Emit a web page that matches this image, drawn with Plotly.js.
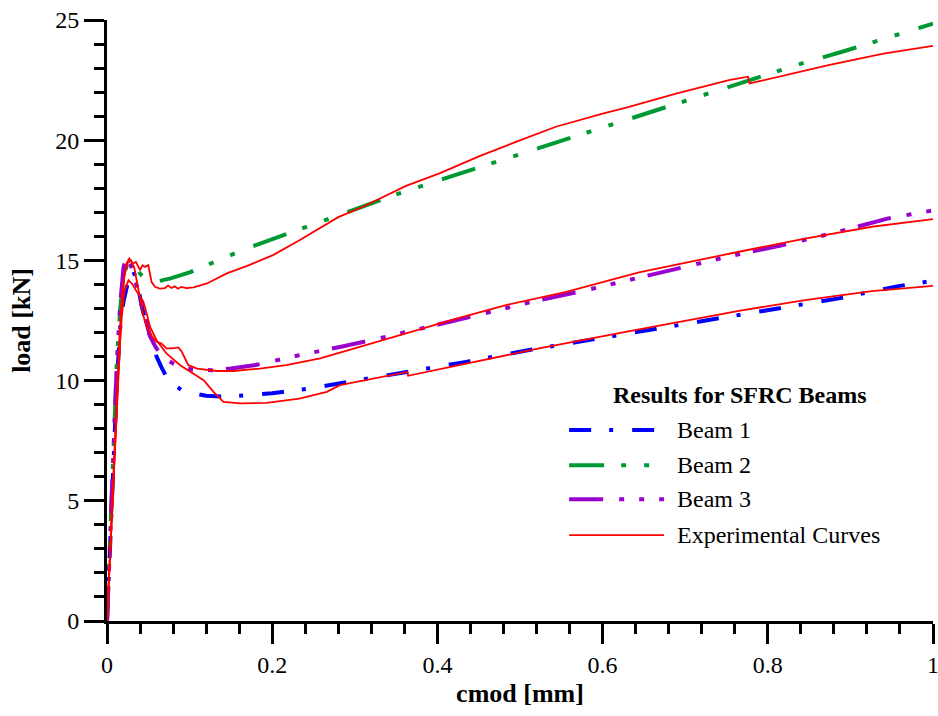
<!DOCTYPE html>
<html>
<head>
<meta charset="utf-8">
<script src="https://cdn.plot.ly/plotly-3.0.1.min.js"></script>
<style>
  body { margin: 0; background: #fff; }
  #plot { position: relative; z-index: 1; width: 938px; height: 716px; }
  #plot text { font-family: 'Liberation Serif', 'Times New Roman', serif !important; }
  #warm { position: absolute; left: 300px; top: 100px; z-index: 0; color: #fff;
          font-family: 'Liberation Serif'; font-size: 24px; }
</style>
</head>
<body>
<div id="warm">0.2 <b>cmod</b></div>
<div id="plot"></div>
<script>
// Beam 1 (numerical)
var beam1X = [0, 0.004, 0.008, 0.012, 0.016, 0.02, 0.026, 0.031, 0.036, 0.042, 0.048, 0.054, 0.06, 0.066, 0.072, 0.08, 0.09, 0.1, 0.12, 0.145, 0.17, 0.2, 0.245, 0.282, 0.354, 0.435, 0.511, 0.584, 0.644, 0.729, 0.805, 0.886, 0.958, 1.0];
var beam1Y = [0, 3.2, 6.8, 10.0, 12.2, 13.3, 14.2, 14.6, 14.2, 13.1, 12.3, 11.6, 11.0, 10.55, 10.15, 9.85, 9.62, 9.5, 9.37, 9.33, 9.38, 9.47, 9.67, 9.88, 10.32, 10.78, 11.27, 11.68, 12.03, 12.51, 12.96, 13.42, 13.93, 14.15];

// Beam 2 (numerical)
var beam2X = [0, 0.004, 0.008, 0.012, 0.016, 0.02, 0.025, 0.03, 0.035, 0.04, 0.046, 0.052, 0.06, 0.077, 0.1, 0.117, 0.143, 0.169, 0.197, 0.288, 0.354, 0.409, 0.475, 0.527, 0.596, 0.65, 0.716, 0.771, 0.837, 0.894, 0.958, 1.0];
var beam2Y = [0, 3.6, 7.5, 10.8, 13.0, 14.3, 14.9, 14.9, 14.7, 14.45, 14.25, 14.1, 14.12, 14.25, 14.5, 14.75, 15.12, 15.5, 15.84, 16.98, 17.79, 18.41, 19.14, 19.75, 20.49, 21.09, 21.81, 22.43, 23.15, 23.72, 24.41, 24.85];

// Beam 3 (numerical)
var beam3X = [0, 0.004, 0.008, 0.012, 0.016, 0.02, 0.0235, 0.028, 0.034, 0.04, 0.046, 0.052, 0.058, 0.064, 0.072, 0.08, 0.09, 0.103, 0.127, 0.15, 0.18, 0.209, 0.233, 0.282, 0.32, 0.386, 0.449, 0.515, 0.58, 0.644, 0.688, 0.751, 0.817, 0.882, 0.946, 1.0];
var beam3Y = [0, 3.6, 7.5, 10.8, 13.2, 14.7, 15.18, 14.9, 14.2, 13.4, 12.5, 11.85, 11.45, 11.13, 10.9, 10.71, 10.55, 10.46, 10.43, 10.5, 10.65, 10.88, 11.06, 11.4, 11.68, 12.21, 12.72, 13.28, 13.76, 14.29, 14.66, 15.15, 15.63, 16.16, 16.75, 17.08];

// experimental curves
var exp1X = [0, 0.003, 0.006, 0.009, 0.012, 0.015, 0.018, 0.021, 0.024, 0.027, 0.031, 0.035, 0.04, 0.043, 0.046, 0.05, 0.054, 0.058, 0.064, 0.07, 0.074, 0.078, 0.082, 0.086, 0.09, 0.096, 0.105, 0.121, 0.145, 0.169, 0.201, 0.233, 0.255, 0.28, 0.31, 0.362, 0.4025, 0.451, 0.495, 0.5435, 0.6, 0.632, 0.69, 0.753, 0.776, 0.778, 0.8735, 0.94, 1.0];
var exp1Y = [0, 2.2, 4.6, 7.0, 9.4, 11.5, 13.2, 14.3, 14.9, 15.08, 14.87, 14.94, 14.6, 14.8, 14.73, 14.8, 14.1, 13.9, 13.83, 13.85, 13.95, 13.85, 13.92, 13.82, 13.9, 13.85, 13.88, 14.04, 14.46, 14.76, 15.22, 15.84, 16.3, 16.8, 17.23, 18.1, 18.62, 19.34, 19.93, 20.56, 21.11, 21.39, 21.95, 22.5, 22.64, 22.36, 23.12, 23.6, 23.92];

var exp2X = [0, 0.003, 0.006, 0.009, 0.012, 0.015, 0.018, 0.021, 0.025, 0.029, 0.033, 0.037, 0.04, 0.044, 0.048, 0.052, 0.056, 0.061, 0.066, 0.072, 0.0785, 0.0865, 0.0905, 0.0985, 0.109, 0.133, 0.153, 0.185, 0.217, 0.258, 0.294, 0.362, 0.423, 0.483, 0.556, 0.644, 0.765, 0.845, 0.926, 1.0];
var exp2Y = [0, 2.3, 4.8, 7.3, 9.7, 11.8, 13.4, 14.4, 14.9, 15.0, 14.7, 14.0, 13.35, 12.7, 12.24, 12.0, 11.75, 11.6, 11.54, 11.34, 11.34, 11.38, 11.2, 10.64, 10.5, 10.4, 10.4, 10.5, 10.64, 10.92, 11.27, 11.96, 12.58, 13.14, 13.69, 14.5, 15.36, 15.91, 16.4, 16.72];

var exp3X = [0, 0.003, 0.006, 0.009, 0.012, 0.015, 0.018, 0.021, 0.026, 0.031, 0.036, 0.04, 0.044, 0.048, 0.052, 0.06, 0.072, 0.0885, 0.105, 0.117, 0.129, 0.141, 0.161, 0.193, 0.233, 0.266, 0.282, 0.3635, 0.3645, 0.443, 0.523, 0.644, 0.765, 0.845, 0.926, 1.0];
var exp3Y = [0, 2.2, 4.5, 6.9, 9.2, 11.2, 12.7, 13.7, 14.18, 14.0, 13.7, 13.5, 13.28, 12.8, 12.24, 11.68, 11.13, 10.64, 10.3, 10.02, 9.53, 9.11, 9.05, 9.07, 9.25, 9.53, 9.81, 10.36, 10.2, 10.78, 11.34, 12.13, 12.9, 13.35, 13.72, 13.94];

var xTicks = [0, 0.2, 0.4, 0.6, 0.8, 1];
var xTickText = ['0', '0.2', '0.4', '0.6', '0.8', '1'];
var legendTitle = 'Results for SFRC Beams';
var legendNames = ['Beam 1', 'Beam 2', 'Beam 3', 'Experimental Curves'];

var blue = '#0000ff', green = '#009933', purple = '#9900cc', red = '#ff0000';
var dash1 = '22px,18px,4px,19px';
var dash2 = '35px,17px,5px,18px,5px,20px';
var dash3 = '34px,16px,5px,15px,5px,15px,5px,13px';

function draw() {
    var data = [
        {x: beam1X, y: beam1Y, mode: 'lines', name: legendNames[0], line: {color: blue, width: 4, dash: dash1}},
        {x: beam2X, y: beam2Y, mode: 'lines', name: legendNames[1], line: {color: green, width: 4, dash: dash2}},
        {x: beam3X, y: beam3Y, mode: 'lines', name: legendNames[2], line: {color: purple, width: 4, dash: dash3}},
        {x: exp1X, y: exp1Y, mode: 'lines', name: legendNames[3], line: {color: red, width: 1.8}},
        {x: exp2X, y: exp2Y, mode: 'lines', name: legendNames[3], line: {color: red, width: 1.8}},
        {x: exp3X, y: exp3Y, mode: 'lines', name: legendNames[3], line: {color: red, width: 1.8}}
    ];

    // hand-made legend (long line samples, centred title)
    var rowY = [0.3176, 0.2593, 0.2027, 0.1428];
    var rowStyle = [
        {color: blue, width: 4, dash: dash1},
        {color: green, width: 4, dash: dash2},
        {color: purple, width: 4, dash: dash3},
        {color: red, width: 1.8, dash: 'solid'}
    ];
    var shapes = rowY.map((y, i) => ({
        type: 'line', xref: 'paper', yref: 'paper',
        x0: 0.5595, x1: 0.6743, y0: y, y1: y, line: rowStyle[i]
    }));
    var annotations = rowY.map((y, i) => ({
        xref: 'paper', yref: 'paper', x: 0.6876, y: y, xanchor: 'left', yanchor: 'middle',
        text: legendNames[i], showarrow: false, font: {size: 24}
    }));
    annotations.push({
        xref: 'paper', yref: 'paper', x: 0.766, y: 0.3757, xanchor: 'center', yanchor: 'middle',
        text: '<b>' + legendTitle + '</b>', showarrow: false, font: {size: 24}
    });

    var layout = {
        width: 938, height: 716,
        margin: {l: 107, r: 5, t: 20, b: 95},
        paper_bgcolor: '#fff', plot_bgcolor: '#fff',
        showlegend: false,
        font: {family: 'Liberation Serif', size: 24, color: '#000'},
        xaxis: {
            range: [0, 1], tickmode: 'array', tickvals: xTicks, ticktext: xTickText,
            showline: true, linewidth: 3, linecolor: '#000',
            ticks: 'outside', ticklen: 20, tickwidth: 3, tickcolor: '#000',
            showgrid: false, zeroline: false, ticklabeloverflow: 'allow',
            minor: {ticks: 'outside', ticklen: 10, tickwidth: 3, tickcolor: '#000', tick0: 0, dtick: 0.04, showgrid: false},
            title: {text: '<b>cmod [mm]</b>', font: {size: 26}, standoff: 8}
        },
        yaxis: {
            range: [0, 25], tick0: 0, dtick: 5,
            showline: true, linewidth: 3, linecolor: '#000',
            ticks: 'outside', ticklen: 20, tickwidth: 3, tickcolor: '#000',
            showgrid: false, zeroline: false,
            minor: {ticks: 'outside', ticklen: 10, tickwidth: 3, tickcolor: '#000', dtick: 1, showgrid: false},
            title: {text: '<b>load [kN]</b>', font: {size: 26}, standoff: 18}
        },
        shapes: shapes,
        annotations: annotations
    };

    Plotly.newPlot('plot', data, layout, {displayModeBar: false});
}

// let the serif face get laid out once before plotly measures its text
requestAnimationFrame(function () { requestAnimationFrame(draw); });
</script>
</body>
</html>
